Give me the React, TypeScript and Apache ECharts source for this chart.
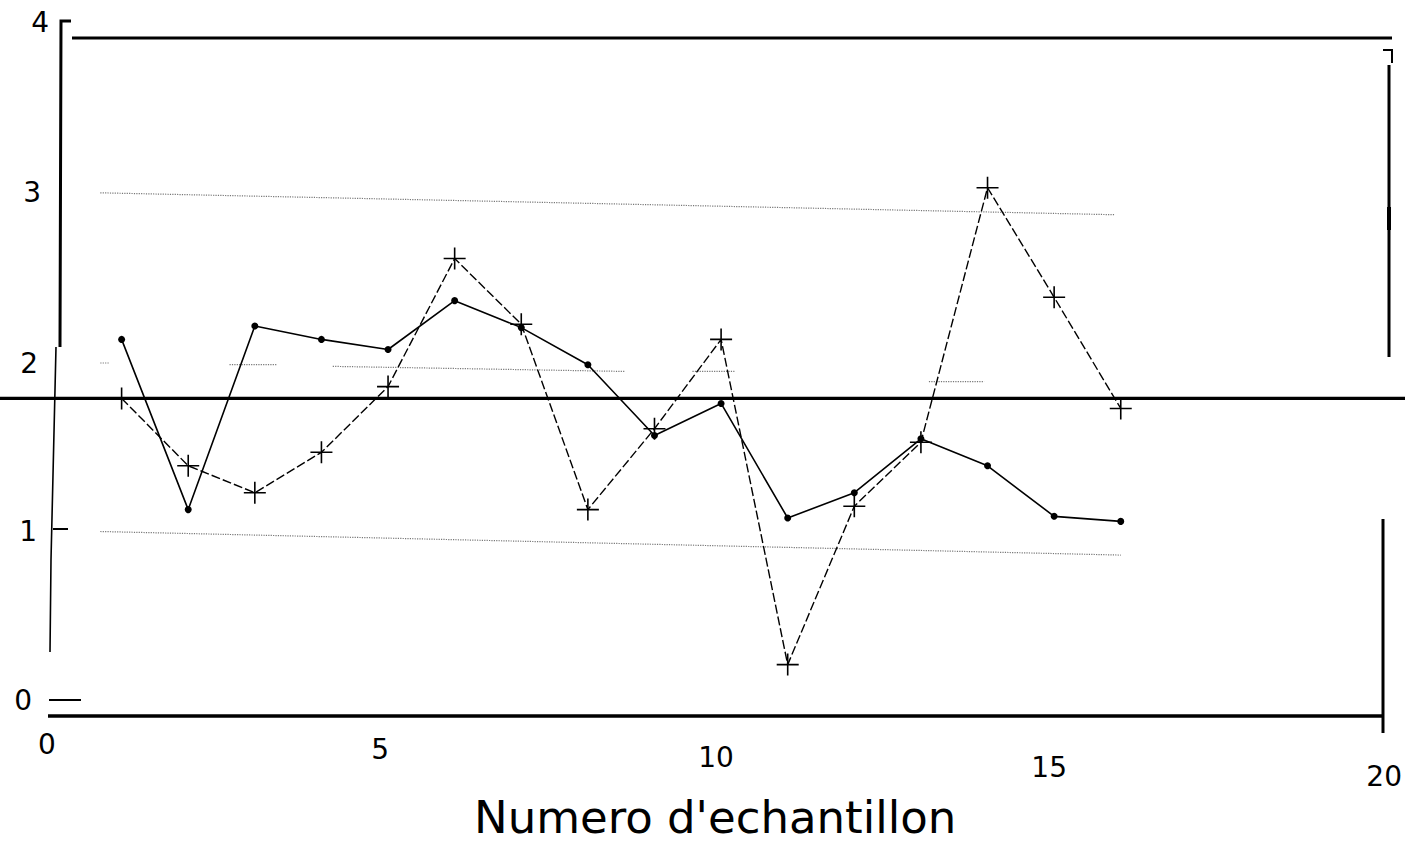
import React, { useEffect, useRef } from "react";
import * as echarts from "echarts";

// sample numbers (x)
const SAMPLES = [1, 2, 3, 4, 5, 6, 7, 8, 9, 10, 11, 12, 13, 14, 15, 16];
// series drawn with dots
const SERIES_DOTS = [2.14, 1.13, 2.22, 2.14, 2.08, 2.37, 2.21, 1.99, 1.57, 1.76, 1.08, 1.23, 1.55, 1.39, 1.09, 1.06];
// series drawn with crosses
const SERIES_CROSS = [1.79, 1.39, 1.23, 1.47, 1.86, 2.62, 2.23, 1.13, 1.61, 2.14, 0.21, 1.15, 1.53, 3.04, 2.39, 1.73];
// tick labels
const X_TICKS = [0, 5, 10, 15, 20];
const Y_TICKS = [0, 1, 2, 3, 4];
const X_TITLE = "Numero d'echantillon";
// heavy horizontal reference level
const REFERENCE_LEVEL = 1.79;
// faint dotted guide lines (as read on the scan)
const UPPER_GUIDE = [[0.68, 3.01], [15.9, 2.88]];
const LOWER_GUIDE = [[0.68, 1.0], [16.0, 0.86]];
const MIDDLE_GUIDE_SEGMENTS = [
  [[0.68, 2.0], [0.82, 2.0]],
  [[2.62, 1.99], [3.33, 1.99]],
  [[4.17, 1.98], [8.55, 1.95]],
  [[9.57, 1.95], [10.2, 1.95]],
  [[13.12, 1.89], [13.95, 1.89]],
];

const FONT = "'DejaVu Sans', 'Open Sans', sans-serif";
const CROSS =
  "path://M0,10.2H22V11.8H0Z M10.2,0H11.8V22H10.2Z";

export default function App() {
  const ref = useRef<HTMLDivElement>(null);

  useEffect(() => {
    if (!ref.current) return;
    const chart = echarts.init(ref.current, undefined, { renderer: "svg" });

    const xPad: Record<number, number[]> = {
      0: [0, 16, 0, 0],
      5: [5, 16, 0, 0],
      10: [13, 10, 0, 0],
      15: [23, 10, 0, 0],
      20: [32, 6, 0, 0],
    };
    const yPad: Record<number, number[]> = {
      0: [0, 17, 0, 0],
      1: [0, 12, 0, 0],
      2: [0, 11, 0, 0],
      3: [0, 8, 4, 0],
      4: [0, 0, 8, 0],
    };
    const xRich: Record<string, any> = {};
    X_TICKS.forEach((t) => {
      xRich["x" + t] = { padding: xPad[t], fontSize: 28, fontFamily: FONT, color: "#000" };
    });
    const yRich: Record<string, any> = {};
    Y_TICKS.forEach((t) => {
      yRich["y" + t] = { padding: yPad[t], fontSize: 28, fontFamily: FONT, color: "#000" };
    });

    const guideStyle = { color: "#777", width: 1.2, type: "dotted" as const };
    const guideSeries = [UPPER_GUIDE, LOWER_GUIDE, ...MIDDLE_GUIDE_SEGMENTS].map((d) => ({
      type: "line",
      data: d,
      symbol: "none",
      lineStyle: guideStyle,
      silent: true,
      z: 1,
    }));

    chart.setOption({
      animation: false,
      backgroundColor: "#fff",
      grid: { left: 55, right: 17, top: 26, bottom: 147, containLabel: false },
      xAxis: {
        type: "value",
        min: 0,
        max: 20,
        interval: 5,
        axisLine: { show: false },
        axisTick: { show: false },
        splitLine: { show: false },
        axisLabel: {
          margin: 30,
          formatter: (v: number) => `{x${v}|${v}}`,
          rich: xRich,
        },
        name: X_TITLE,
        nameLocation: "middle",
        nameGap: 89,
        nameTextStyle: { fontSize: 45, fontFamily: FONT, color: "#000", padding: [0, 12, 0, 0] },
      },
      yAxis: {
        type: "value",
        min: 0,
        max: 4,
        interval: 1,
        axisLine: { show: false },
        axisTick: { show: false },
        splitLine: { show: false },
        axisLabel: {
          margin: 6,
          formatter: (v: number) => `{y${v}|${v}}`,
          rich: yRich,
        },
      },
      series: [
        ...guideSeries,
        {
          type: "line",
          name: "dots",
          data: SAMPLES.map((s, i) => [s, SERIES_DOTS[i]]),
          symbol: "circle",
          symbolSize: 7,
          showSymbol: true,
          itemStyle: { color: "#000" },
          lineStyle: { color: "#000", width: 1.6 },
          z: 3,
        },
        {
          type: "line",
          name: "cross",
          data: SAMPLES.map((s, i) => [s, SERIES_CROSS[i]]),
          symbol: CROSS,
          symbolSize: 22,
          showSymbol: true,
          itemStyle: { color: "#000" },
          lineStyle: { color: "#000", width: 1.4, type: [9, 3] },
          z: 4,
        },
      ],
    });

    const refY = chart.convertToPixel({ yAxisIndex: 0 }, REFERENCE_LEVEL) as number;
    const blk = { stroke: "#000", lineWidth: 3, fill: "none" };
    chart.setOption({
      graphic: [
        { type: "line", shape: { x1: 0, y1: refY, x2: 1405, y2: refY }, style: { ...blk, lineWidth: 3.2 }, z: 10 },
        { type: "line", shape: { x1: 72, y1: 38, x2: 1392, y2: 38 }, style: blk, z: 10 },
        { type: "polyline", shape: { points: [[71, 21], [61, 21], [60, 347]] }, style: blk, z: 10 },
        { type: "polyline", shape: { points: [[56, 347], [51, 560], [50, 652]] }, style: { ...blk, lineWidth: 1.6 }, z: 10 },
        { type: "line", shape: { x1: 49, y1: 700, x2: 81, y2: 700 }, style: { ...blk, lineWidth: 2 }, z: 10 },
        { type: "line", shape: { x1: 53, y1: 529, x2: 68, y2: 529 }, style: { ...blk, lineWidth: 2 }, z: 10 },
        { type: "line", shape: { x1: 48, y1: 716, x2: 1383, y2: 716 }, style: { ...blk, lineWidth: 3.4 }, z: 10 },
        { type: "line", shape: { x1: 1383, y1: 519, x2: 1383, y2: 733 }, style: blk, z: 10 },
        { type: "line", shape: { x1: 1389, y1: 65, x2: 1389, y2: 357 }, style: blk, z: 10 },
        { type: "polyline", shape: { points: [[1383, 50], [1392, 50], [1392, 63]] }, style: { ...blk, lineWidth: 2 }, z: 10 },
        { type: "rect", shape: { x: 1387, y: 207, width: 4, height: 23 }, style: { fill: "#000" }, z: 10 },
      ],
    });

    return () => chart.dispose();
  }, []);

  return (
    <div
      ref={ref}
      style={{ position: "fixed", left: 0, top: 0, width: 1405, height: 847, background: "#fff" }}
    />
  );
}
